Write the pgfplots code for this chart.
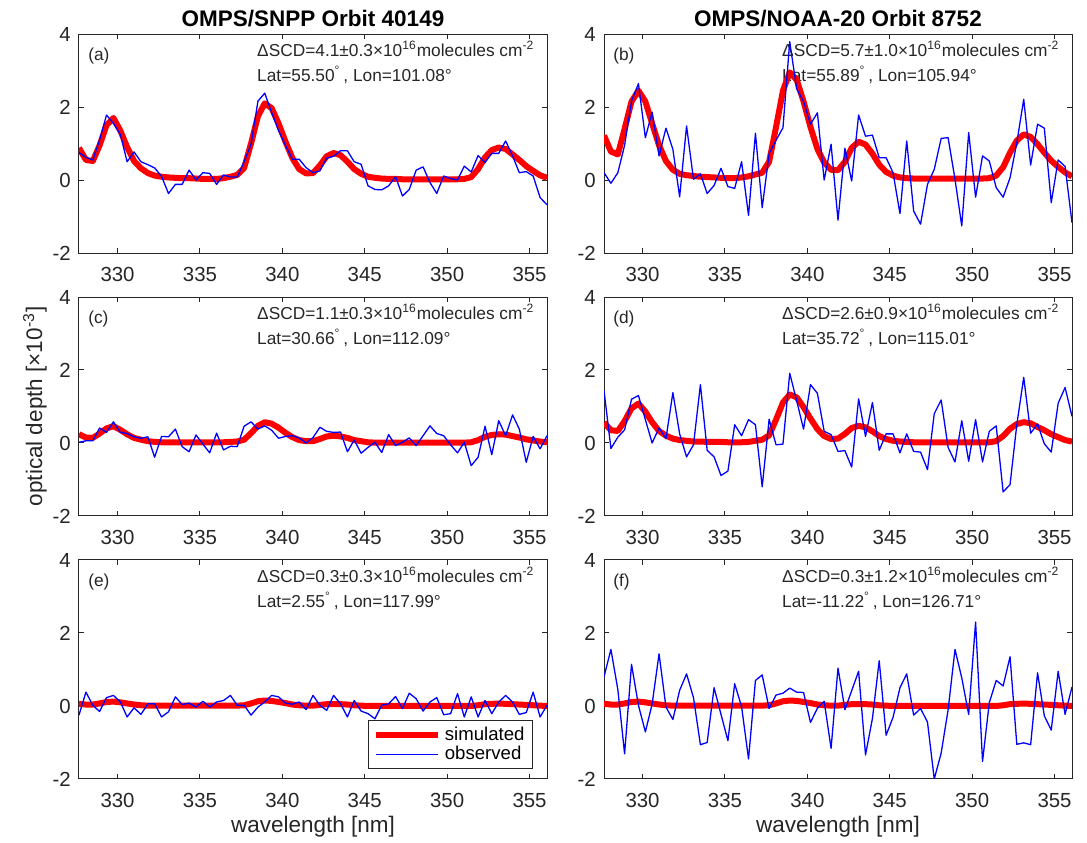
\documentclass[border=0pt]{standalone}
\usepackage{fontspec}
\setmainfont{Liberation Sans}
\usepackage{pgfplots}
\usepackage{pgfplotstable}
\pgfplotsset{compat=1.18}
\usepgfplotslibrary{groupplots}
\definecolor{axc}{HTML}{262626}
\newcommand{\tickfont}{\fontsize{10.2}{12}\selectfont}
\newcommand{\labfont}{\fontsize{11.25}{13}\selectfont}
\newcommand{\annfont}{\fontsize{8.65}{10}\selectfont}
\newcommand{\legfont}{\fontsize{9.3}{11}\selectfont}

\pgfplotstableread{
x s o
327.66 0.88 0.75
328.08 0.55 0.62
328.50 0.52 0.55
328.91 0.95 1.10
329.33 1.50 1.78
329.75 1.70 1.55
330.17 1.35 1.25
330.58 0.90 0.50
331.00 0.52 0.77
331.42 0.32 0.50
331.84 0.19 0.42
332.25 0.12 0.33
332.67 0.09 0.10
333.09 0.07 -0.37
333.51 0.06 -0.12
333.92 0.05 -0.12
334.34 0.05 0.27
334.76 0.04 0.00
335.18 0.03 0.20
335.59 0.03 0.18
336.01 0.03 -0.12
336.43 0.05 0.14
336.85 0.09 0.08
337.26 0.14 0.08
337.68 0.33 0.50
338.10 1.00 0.98
338.52 1.75 2.16
338.93 2.10 2.38
339.35 1.97 1.85
339.77 1.55 1.35
340.19 1.05 0.95
340.61 0.60 0.57
341.02 0.30 0.57
341.44 0.18 0.34
341.86 0.19 0.20
342.28 0.40 0.25
342.69 0.65 0.60
343.11 0.74 0.65
343.53 0.68 0.80
343.95 0.50 0.80
344.36 0.30 0.50
344.78 0.17 0.43
345.20 0.09 -0.16
345.62 0.06 -0.26
346.03 0.04 -0.27
346.45 0.03 -0.16
346.87 0.03 0.09
347.29 0.02 -0.44
347.70 0.02 -0.26
348.12 0.02 0.27
348.54 0.02 0.36
348.96 0.02 -0.07
349.37 0.02 -0.37
349.79 0.02 0.11
350.21 0.02 0.04
350.63 0.02 0.00
351.04 0.03 0.38
351.46 0.08 0.22
351.88 0.30 0.67
352.30 0.62 0.48
352.71 0.82 0.73
353.13 0.89 0.73
353.55 0.85 1.07
353.97 0.70 0.66
354.38 0.55 0.20
354.80 0.38 0.23
355.22 0.25 0.11
355.64 0.13 -0.48
356.06 0.06 -0.68
}\tA

\pgfplotstableread{
x s o
327.66 1.22 0.20
328.08 0.78 -0.09
328.50 0.70 0.20
328.91 1.40 0.95
329.33 2.15 2.16
329.75 2.45 2.64
330.17 2.15 1.16
330.58 1.55 1.86
331.00 0.95 0.66
331.42 0.52 1.42
331.84 0.28 0.84
332.25 0.17 -0.46
332.67 0.13 1.48
333.09 0.11 0.02
333.51 0.09 0.17
333.92 0.08 -0.37
334.34 0.07 -0.15
334.76 0.06 0.32
335.18 0.05 -0.18
335.59 0.05 -0.23
336.01 0.07 0.50
336.43 0.10 -0.97
336.85 0.15 1.28
337.26 0.20 -0.76
337.68 0.50 0.72
338.10 1.45 1.09
338.52 2.45 1.43
338.93 2.95 3.79
339.35 2.75 2.50
339.77 2.15 2.15
340.19 1.45 1.53
340.61 0.85 1.84
341.02 0.48 0.00
341.44 0.28 0.98
341.86 0.27 -1.10
342.28 0.50 0.87
342.69 0.88 -0.03
343.11 1.05 1.78
343.53 0.97 1.20
343.95 0.72 1.23
344.36 0.42 0.61
344.78 0.22 0.61
345.20 0.12 0.20
345.62 0.07 -0.92
346.03 0.05 1.07
346.45 0.04 -0.85
346.87 0.04 -1.21
347.29 0.04 -0.12
347.70 0.04 0.29
348.12 0.04 1.14
348.54 0.04 1.16
348.96 0.04 0.02
349.37 0.04 -1.26
349.79 0.04 1.30
350.21 0.04 -0.47
350.63 0.04 0.66
351.04 0.05 0.52
351.46 0.12 -0.21
351.88 0.35 -0.47
352.30 0.75 0.06
352.71 1.08 1.02
353.13 1.25 2.21
353.55 1.18 0.41
353.97 0.98 1.53
354.38 0.75 1.42
354.80 0.53 -0.62
355.22 0.36 0.55
355.64 0.21 0.37
356.06 0.10 -1.17
}\tB

\pgfplotstableread{
x s o
327.66 0.24 0.02
328.08 0.15 0.06
328.50 0.14 0.06
328.91 0.26 0.41
329.33 0.40 0.29
329.75 0.46 0.58
330.17 0.36 0.29
330.58 0.24 0.26
331.00 0.14 0.17
331.42 0.09 0.13
331.84 0.05 0.17
332.25 0.03 -0.39
332.67 0.02 0.18
333.09 0.02 0.17
333.51 0.02 0.38
333.92 0.02 -0.10
334.34 0.02 -0.24
334.76 0.02 0.22
335.18 0.02 -0.03
335.59 0.02 -0.27
336.01 0.02 0.27
336.43 0.02 -0.19
336.85 0.03 -0.09
337.26 0.04 -0.10
337.68 0.09 0.46
338.10 0.27 0.58
338.52 0.47 0.38
338.93 0.57 0.47
339.35 0.53 0.35
339.77 0.42 0.13
340.19 0.28 0.18
340.61 0.16 0.20
341.02 0.08 0.14
341.44 0.05 0.00
341.86 0.05 0.15
342.28 0.11 0.43
342.69 0.18 0.32
343.11 0.20 0.29
343.53 0.18 0.30
343.95 0.14 -0.24
344.36 0.08 0.08
344.78 0.05 -0.28
345.20 0.02 -0.12
345.62 0.01 0.02
346.03 0.01 -0.26
346.45 0.01 0.23
346.87 0.01 -0.07
347.29 0.01 0.02
347.70 0.01 0.14
348.12 0.01 -0.07
348.54 0.01 0.20
348.96 0.01 0.47
349.37 0.01 0.26
349.79 0.01 0.20
350.21 0.01 -0.05
350.63 0.01 -0.27
351.04 0.01 0.02
351.46 0.02 -0.62
351.88 0.08 -0.39
352.30 0.17 0.46
352.71 0.22 -0.32
353.13 0.24 0.61
353.55 0.23 0.20
353.97 0.19 0.77
354.38 0.15 0.38
354.80 0.10 -0.53
355.22 0.07 0.18
355.64 0.04 -0.16
356.06 0.02 0.20
}\tC

\pgfplotstableread{
x s o
327.66 0.56 1.44
328.08 0.35 -0.15
328.50 0.33 0.16
328.91 0.60 0.36
329.33 0.95 1.20
329.75 1.08 1.30
330.17 0.86 0.64
330.58 0.57 0.00
331.00 0.33 0.41
331.42 0.20 0.12
331.84 0.12 1.38
332.25 0.08 0.25
332.67 0.06 -0.38
333.09 0.04 -0.05
333.51 0.04 1.60
333.92 0.03 -0.20
334.34 0.03 -0.38
334.76 0.03 -0.89
335.18 0.02 -0.77
335.59 0.02 0.50
336.01 0.02 0.20
336.43 0.03 0.64
336.85 0.06 0.50
337.26 0.09 -1.20
337.68 0.21 0.65
338.10 0.64 -0.05
338.52 1.11 -0.03
338.93 1.33 1.91
339.35 1.25 1.16
339.77 0.98 0.38
340.19 0.67 1.60
340.61 0.38 1.36
341.02 0.19 0.32
341.44 0.11 0.23
341.86 0.12 -0.23
342.28 0.25 -0.21
342.69 0.41 -0.66
343.11 0.47 1.21
343.53 0.43 0.18
343.95 0.32 1.11
344.36 0.19 -0.20
344.78 0.11 0.25
345.20 0.06 0.25
345.62 0.04 -0.27
346.03 0.03 0.25
346.45 0.02 -0.23
346.87 0.02 -0.25
347.29 0.02 -0.73
347.70 0.02 0.80
348.12 0.02 1.18
348.54 0.02 -0.12
348.96 0.02 -0.52
349.37 0.02 0.61
349.79 0.02 -0.50
350.21 0.02 0.64
350.63 0.02 -0.52
351.04 0.02 0.32
351.46 0.05 0.47
351.88 0.19 -1.34
352.30 0.39 -1.14
352.71 0.52 0.50
353.13 0.57 1.80
353.55 0.54 0.27
353.97 0.44 0.52
354.38 0.35 -0.02
354.80 0.24 -0.25
355.22 0.16 1.09
355.64 0.08 1.52
356.06 0.04 0.73
}\tD

\pgfplotstableread{
x s o
327.66 0.06 -0.25
328.08 0.04 0.38
328.50 0.04 0.02
328.91 0.07 -0.15
329.33 0.11 0.23
329.75 0.12 0.29
330.17 0.10 0.11
330.58 0.07 -0.30
331.00 0.04 -0.05
331.42 0.02 -0.23
331.84 0.01 0.06
332.25 0.01 0.06
332.67 0.01 -0.30
333.09 0.01 -0.16
333.51 0.01 0.25
333.92 0.01 0.04
334.34 0.01 0.08
334.76 0.01 -0.03
335.18 0.01 0.13
335.59 0.01 -0.03
336.01 0.01 0.11
336.43 0.01 0.15
336.85 0.01 0.29
337.26 0.01 0.02
337.68 0.02 0.02
338.10 0.07 -0.25
338.52 0.13 -0.03
338.93 0.15 0.11
339.35 0.14 0.29
339.77 0.11 0.25
340.19 0.08 0.08
340.61 0.04 0.05
341.02 0.02 0.11
341.44 0.01 -0.10
341.86 0.01 0.29
342.28 0.03 0.02
342.69 0.05 -0.12
343.11 0.05 0.29
343.53 0.05 0.06
343.95 0.04 -0.30
344.36 0.02 0.15
344.78 0.01 -0.14
345.20 0.00 -0.21
345.62 0.00 -0.35
346.03 0.00 0.02
346.45 0.00 0.06
346.87 0.00 0.26
347.29 0.00 -0.07
347.70 0.00 0.35
348.12 0.00 0.20
348.54 0.00 -0.14
348.96 0.00 0.11
349.37 0.00 0.23
349.79 0.00 -0.24
350.21 0.00 -0.21
350.63 0.00 0.34
351.04 0.00 -0.30
351.46 0.00 0.25
351.88 0.02 -0.30
352.30 0.05 0.15
352.71 0.06 -0.21
353.13 0.065 0.11
353.55 0.06 0.29
353.97 0.05 0.11
354.38 0.04 -0.23
354.80 0.03 -0.18
355.22 0.02 0.38
355.64 0.01 -0.30
356.06 0.00 0.02
}\tE

\pgfplotstableread{
x s o
327.66 0.06 0.80
328.08 0.04 1.55
328.50 0.04 0.45
328.91 0.07 -1.31
329.33 0.11 1.14
329.75 0.12 0.02
330.17 0.10 -0.71
330.58 0.07 0.05
331.00 0.04 1.43
331.42 0.02 -0.03
331.84 0.01 -0.37
332.25 0.01 0.43
332.67 0.01 0.88
333.09 0.01 0.23
333.51 0.01 -1.06
333.92 0.01 -1.00
334.34 0.01 0.50
334.76 0.01 -0.23
335.18 0.01 -0.95
335.59 0.01 0.61
336.01 0.01 -0.02
336.43 0.01 -1.45
336.85 0.01 0.70
337.26 0.01 0.85
337.68 0.02 -0.07
338.10 0.07 0.30
338.52 0.13 0.35
338.93 0.15 0.49
339.35 0.14 0.38
339.77 0.11 0.37
340.19 0.08 -0.45
340.61 0.04 -0.06
341.02 0.02 0.13
341.44 0.01 -1.16
341.86 0.01 1.04
342.28 0.03 -0.10
342.69 0.05 0.42
343.11 0.05 0.95
343.53 0.05 -1.34
343.95 0.04 -0.34
344.36 0.02 1.24
344.78 0.01 -0.80
345.20 0.00 -0.31
345.62 0.00 0.50
346.03 0.00 0.88
346.45 0.00 -0.25
346.87 0.00 -0.07
347.29 0.00 -0.44
347.70 0.00 -2.00
348.12 0.00 -1.29
348.54 0.00 -0.11
348.96 0.00 1.55
349.37 0.00 0.77
349.79 0.00 -0.23
350.21 0.00 2.30
350.63 0.00 -1.52
351.04 0.00 0.09
351.46 0.00 0.70
351.88 0.02 0.55
352.30 0.05 1.35
352.71 0.06 -1.05
353.13 0.065 -1.01
353.55 0.06 -1.06
353.97 0.05 0.91
354.38 0.04 -0.27
354.80 0.03 -0.66
355.22 0.02 0.95
355.64 0.01 -0.23
356.06 0.00 0.52
}\tF

\pgfplotsset{
  panel/.style={
    width=234pt, height=109.5pt, scale only axis,
    xmin=327.66, xmax=356.06, ymin=-2, ymax=4,
    xtick={330,335,340,345,350,355}, xticklabels={330,335,340,345,350,355},
    ytick={-2,0,2,4}, yticklabels={-2,0,2,4},
    tick align=inside, tick pos=both, major tick length=2.5pt,
    axis line style={axc, line width=0.5pt},
    major tick style={axc, line width=0.5pt},
    tick label style={font=\tickfont, text=axc},
    xticklabel style={yshift=-3.6pt},
    yticklabel style={xshift=-0.6pt},
  },
  sim/.style={red, line width=3pt, line join=round},
  obs/.style={blue, line width=0.65pt, line join=round},
}
\newcommand{\ann}[3]{%
  \node[anchor=base west, font=\annfont, text=axc, inner sep=0pt] at (rel axis cs:0.019,0.877) {(#1)};
  \node[anchor=base west, font=\annfont, text=axc, inner sep=0pt] at (rel axis cs:0.380,0.896) {#2};
  \node[anchor=base west, font=\annfont, text=axc, inner sep=0pt] at (rel axis cs:0.380,0.782) {#3};
}

\begin{document}
\begin{tikzpicture}
\begin{groupplot}[group style={group size=2 by 3, horizontal sep=28.5pt, vertical sep=22pt, group name=G}, panel]
\nextgroupplot
\ann{a}{ΔSCD=4.1±0.3×10\textsuperscript{16}molecules cm\textsuperscript{-2}}{Lat=55.50\textsuperscript{°}\,, Lon=101.08°}
\addplot[sim] table[x=x,y=s]{\tA};
\addplot[obs] table[x=x,y=o]{\tA};
\nextgroupplot
\ann{b}{ΔSCD=5.7±1.0×10\textsuperscript{16}molecules cm\textsuperscript{-2}}{Lat=55.89\textsuperscript{°}\,, Lon=105.94°}
\addplot[sim] table[x=x,y=s]{\tB};
\addplot[obs] table[x=x,y=o]{\tB};
\nextgroupplot
\ann{c}{ΔSCD=1.1±0.3×10\textsuperscript{16}molecules cm\textsuperscript{-2}}{Lat=30.66\textsuperscript{°}\,, Lon=112.09°}
\addplot[sim] table[x=x,y=s]{\tC};
\addplot[obs] table[x=x,y=o]{\tC};
\nextgroupplot
\ann{d}{ΔSCD=2.6±0.9×10\textsuperscript{16}molecules cm\textsuperscript{-2}}{Lat=35.72\textsuperscript{°}\,, Lon=115.01°}
\addplot[sim] table[x=x,y=s]{\tD};
\addplot[obs] table[x=x,y=o]{\tD};
\nextgroupplot[legend style={at={(0.970,0.0457)}, anchor=south east, draw=axc, line width=0.5pt, fill=white, font=\legfont, row sep=-2.5pt, inner xsep=2pt, inner ysep=1pt},
  legend cell align=left,
  legend image code/.code={\draw[#1] (0pt,0pt) -- (31pt,0pt);}]
\ann{e}{ΔSCD=0.3±0.3×10\textsuperscript{16}molecules cm\textsuperscript{-2}}{Lat=2.55\textsuperscript{°}\,, Lon=117.99°}
\addplot[sim] table[x=x,y=s]{\tE};
\addlegendentry{simulated}
\addplot[obs] table[x=x,y=o]{\tE};
\addlegendentry{observed}
\nextgroupplot
\ann{f}{ΔSCD=0.3±1.2×10\textsuperscript{16}molecules cm\textsuperscript{-2}}{Lat=-11.22\textsuperscript{°}\,, Lon=126.71°}
\addplot[sim] table[x=x,y=s]{\tF};
\addplot[obs] table[x=x,y=o]{\tF};
\end{groupplot}
\node[anchor=base, font=\labfont\bfseries, text=black] at ([yshift=3.7pt]G c1r1.north) {OMPS/SNPP Orbit 40149};
\node[anchor=base, font=\labfont\bfseries, text=black] at ([yshift=3.7pt]G c2r1.north) {OMPS/NOAA-20 Orbit 8752};
\node[rotate=90, font=\labfont, text=axc] at ([xshift=-22pt]G c1r2.west) {optical depth [×10\textsuperscript{-3}]};
\node[anchor=base, font=\labfont, text=axc] at ([yshift=-26.85pt]G c1r3.south) {wavelength [nm]};
\node[anchor=base, font=\labfont, text=axc] at ([yshift=-26.85pt]G c2r3.south) {wavelength [nm]};
\pgfresetboundingbox
\path[use as bounding box] ([shift={(-39.5pt,17pt)}]G c1r1.north west) rectangle ([shift={(504pt,-404pt)}]G c1r1.north west);
\end{tikzpicture}
\end{document}
